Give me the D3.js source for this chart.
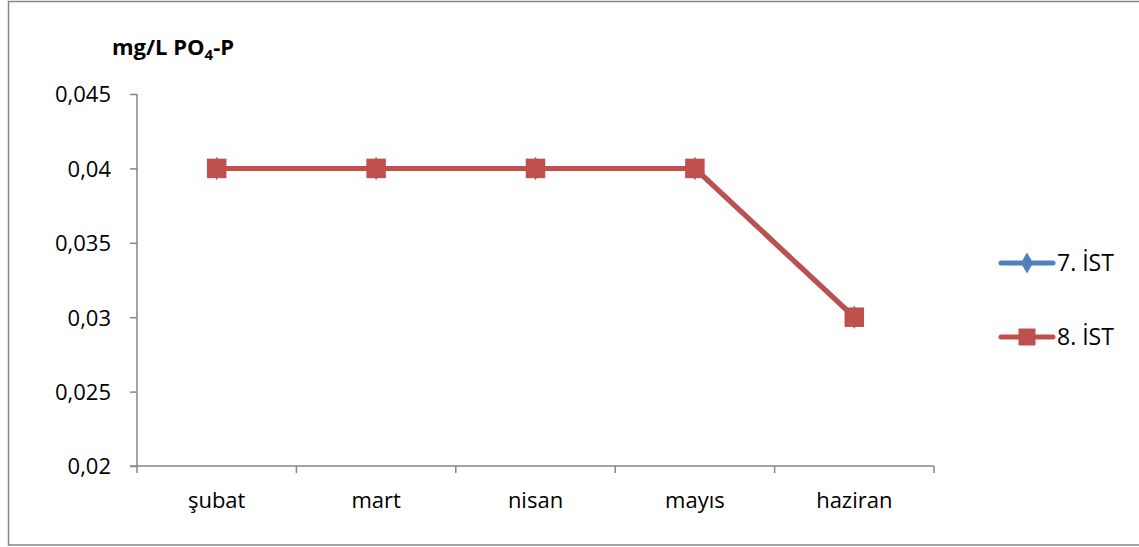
<!DOCTYPE html>
<html>
<head>
<meta charset="utf-8">
<script src="https://cdn.jsdelivr.net/npm/d3@7"></script>
<style>
  html, body { margin: 0; padding: 0; background: #fff; }
  svg text { font-family: "Open Sans", "Noto Sans", sans-serif; fill: #000; }
</style>
</head>
<body>
<svg id="chart" width="1139" height="547"></svg>
<script>
// Monthly PO4-P concentration at two stations
const months = ["şubat", "mart", "nisan", "mayıs", "haziran"];
const station7 = [0.04, 0.04, 0.04, 0.04, 0.03];
const station8 = [0.04, 0.04, 0.04, 0.04, 0.03];
const seriesNames = ["7. İST", "8. İST"];
const yTicks = [0.02, 0.025, 0.03, 0.035, 0.04, 0.045];
const yTickLabels = ["0,02", "0,025", "0,03", "0,035", "0,04", "0,045"];

const series = [
  { name: seriesNames[0], values: station7, color: "#4F81BD", symbol: d3.symbolDiamond },
  { name: seriesNames[1], values: station8, color: "#C0504D", symbol: d3.symbolSquare }
];

const svg = d3.select("#chart");
const plot = { left: 137, right: 934, top: 94, bottom: 466 };

// Chart frame
svg.append("rect")
  .attr("x", 8.5).attr("y", 1.5)
  .attr("width", 1140).attr("height", 543.5)
  .attr("fill", "#fff").attr("stroke", "#868686").attr("stroke-width", 1.5);

const x = d3.scaleBand().domain(months).range([plot.left, plot.right]).paddingInner(0).paddingOuter(0);
const y = d3.scaleLinear().domain([0.02, 0.045]).range([plot.bottom, plot.top]);

// Y axis
const yAxis = d3.axisLeft(y)
  .tickValues(yTicks)
  .tickFormat((d, i) => yTickLabels[i])
  .tickSize(7).tickPadding(19);
const gy = svg.append("g").attr("transform", `translate(${plot.left},0)`).call(yAxis);
gy.select(".domain").remove();
gy.append("line").attr("x1", 0).attr("x2", 0).attr("y1", plot.top).attr("y2", plot.bottom)
  .attr("stroke", "#868686").attr("stroke-width", 1.5);
gy.selectAll(".tick line").attr("stroke", "#868686").attr("stroke-width", 1.5);
gy.selectAll(".tick text").style("font-size", "22px").attr("dy", "0.36em");

// X axis: tick marks at category boundaries, labels centered in each band
const boundaries = months.map(m => x(m)).concat([plot.right]);
const gx = svg.append("g");
gx.append("line").attr("x1", plot.left - 7).attr("x2", plot.right).attr("y1", plot.bottom).attr("y2", plot.bottom)
  .attr("stroke", "#868686").attr("stroke-width", 1.5);
gx.selectAll("line.tk").data(boundaries).join("line").attr("class", "tk")
  .attr("x1", d => d).attr("x2", d => d)
  .attr("y1", plot.bottom).attr("y2", plot.bottom + 7)
  .attr("stroke", "#868686").attr("stroke-width", 1.5);
gx.selectAll("text").data(months).join("text")
  .attr("x", d => x(d) + x.bandwidth() / 2)
  .attr("y", plot.bottom + 42)
  .attr("text-anchor", "middle")
  .style("font-size", "22px")
  .text(d => d);

// Axis title
const title = svg.append("text").attr("x", 112).attr("y", 55)
  .style("font-size", "22px").style("font-weight", "bold");
title.append("tspan").text("mg/L PO");
title.append("tspan").attr("dy", 5).style("font-size", "15px").text("4");
title.append("tspan").attr("dy", -5).text("-P");

// Series lines and markers
const line = d3.line()
  .x((d, i) => x(months[i]) + x.bandwidth() / 2)
  .y(d => y(d));

series.forEach(s => {
  svg.append("path").datum(s.values)
    .attr("d", line)
    .attr("fill", "none")
    .attr("stroke", s.color)
    .attr("stroke-width", 5)
    .attr("stroke-linejoin", "round");
  svg.selectAll(null).data(s.values).join("path")
    .attr("transform", (d, i) => `translate(${x(months[i]) + x.bandwidth() / 2},${y(d)})`)
    .attr("d", d3.symbol().type(s.symbol).size(s.symbol === d3.symbolSquare ? 380 : 160))
    .attr("fill", s.color);
});

// Legend
const legend = svg.append("g");
series.forEach((s, i) => {
  const ly = 263 + i * 74;
  legend.append("line").attr("x1", 1001).attr("x2", 1053).attr("y1", ly).attr("y2", ly)
    .attr("stroke", s.color).attr("stroke-width", 5).attr("stroke-linecap", "round");
  legend.append("path")
    .attr("transform", `translate(1027,${ly})`)
    .attr("d", d3.symbol().type(s.symbol).size(s.symbol === d3.symbolSquare ? 289 : 130))
    .attr("fill", s.color);
  legend.append("text").attr("x", 1057).attr("y", ly + 8)
    .style("font-size", "23px").text(s.name);
});
</script>
</body>
</html>
